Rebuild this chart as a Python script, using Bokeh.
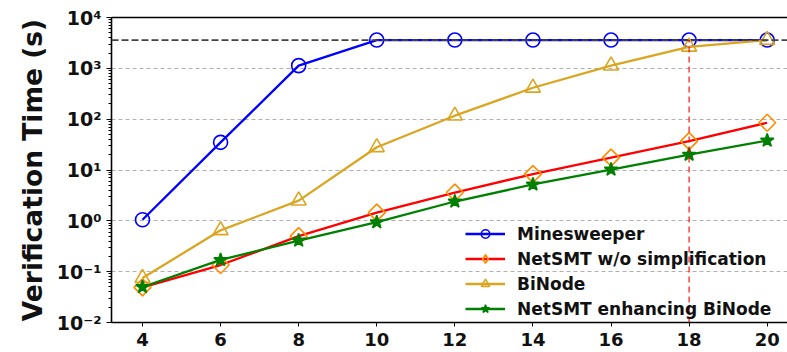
import math
from bokeh.plotting import figure
from bokeh.models import (FixedTicker, CustomJSTickFormatter, LinearAxis, Span,
                          Legend, LegendItem)
from bokeh.embed import file_html
from bokeh.resources import INLINE

# Network size (x) and verification time in seconds for each approach
sizes = [4, 6, 8, 10, 12, 14, 16, 18, 20]
minesweeper = [1.05, 35, 1130, 3600, 3600, 3600, 3600, 3600, 3600]
netsmt_wo_simpl = [0.049, 0.135, 0.5, 1.45, 3.6, 8.3, 17.5, 37, 85]
binode = [0.075, 0.65, 2.5, 28, 117, 415, 1130, 2650, 3600]
netsmt_binode = [0.05, 0.17, 0.41, 0.94, 2.4, 5.2, 10.2, 20, 38]

timeout_s = 3600
marked_size = 18

x_ticks = [4, 6, 8, 10, 12, 14, 16, 18, 20]
y_decades = [1e-2, 1e-1, 1e0, 1e1, 1e2, 1e3, 1e4]

FONT = "DejaVu Sans"

p = figure(width=787, height=352, x_range=(3.206, 20.52), y_range=(0.01, 10000),
           y_axis_type="log", output_backend="svg", toolbar_location=None,
           min_border_left=111, min_border_right=0, min_border_top=17,
           min_border_bottom=30)
p.outline_line_color = None
p.background_fill_color = "white"
p.border_fill_color = "white"

xa = p.below[0]
xa.ticker = FixedTicker(ticks=x_ticks)
xa.axis_line_width = 1.6
xa.major_tick_out = 4
xa.major_tick_in = 0
xa.minor_tick_line_color = None
xa.major_label_text_font = FONT
xa.major_label_text_font_style = "bold"
xa.major_label_text_font_size = "18px"
xa.major_label_text_color = "#111111"
xa.major_label_standoff = 6

minor = [k * d for d in y_decades[:-1] for k in range(2, 10)]
ya = p.left[0]
ya.ticker = FixedTicker(ticks=y_decades, minor_ticks=minor)
ya.formatter = CustomJSTickFormatter(code="""
const sup = {'-':'\u207b','0':'\u2070','1':'\u00b9','2':'\u00b2','3':'\u00b3',
             '4':'\u2074','5':'\u2075','6':'\u2076','7':'\u2077','8':'\u2078','9':'\u2079'};
const e = Math.round(Math.log10(tick));
return '10' + String(e).split('').map(c => sup[c]).join('');
""")
ya.axis_line_width = 1.6
ya.major_tick_out = 5
ya.major_tick_in = 0
ya.minor_tick_out = 3
ya.minor_tick_in = 0
ya.major_label_text_font = FONT
ya.major_label_text_font_style = "bold"
ya.major_label_text_font_size = "19px"
ya.major_label_text_color = "#111111"
ya.major_label_standoff = 5
ya.axis_label = "Verification Time (s)"
ya.axis_label_text_font = FONT
ya.axis_label_text_font_style = "bold"
ya.axis_label_text_font_size = "26.5px"
ya.axis_label_text_color = "#111111"
ya.axis_label_standoff = 6

# top frame line
top = LinearAxis(ticker=FixedTicker(ticks=[]), axis_line_width=1.6,
                 axis_line_color="black", major_tick_line_color=None,
                 minor_tick_line_color=None)
p.add_layout(top, "above")

p.xgrid.visible = False
p.ygrid.ticker = FixedTicker(ticks=y_decades)
p.ygrid.grid_line_color = "#b0b0b0"
p.ygrid.grid_line_dash = "4 3"
p.ygrid.grid_line_width = 1

# label, values, line colour, marker, marker colour, fill, size, angle
series = [
    ("Minesweeper", minesweeper, "blue", "circle", "blue", None, 14, 0),
    ("NetSMT w/o simplification", netsmt_wo_simpl, "red", "square", "darkorange", None, 12, math.pi / 4),
    ("BiNode", binode, "goldenrod", "triangle", "goldenrod", None, 15, 0),
    ("NetSMT enhancing BiNode", netsmt_binode, "green", "star", "green", "green", 14, 0),
]

items = []
for label, vals, lc, marker, mc, fc, ms, ang in series:
    ln = p.line(sizes, vals, line_color=lc, line_width=2.3)
    sc = p.scatter(sizes, vals, marker=marker, size=ms, angle=ang, line_color=mc,
                   line_width=1.6, fill_color=fc if fc else None)
    if ang:
        # the legend swatch ignores rotation, so show an upright diamond there
        sc = p.scatter([float("nan")], [float("nan")], marker="diamond", size=19,
                       line_color=mc, line_width=1.6, fill_color=None)
    items.append(LegendItem(label=label, renderers=[ln, sc]))

# timeout threshold
p.add_layout(Span(location=timeout_s, dimension="width", line_color="#444444",
                  line_width=1.8, line_dash="7 3"))
# size where the comparison is highlighted
p.segment(x0=[marked_size], y0=[0.01], x1=[marked_size], y1=[timeout_s],
          line_color="red", line_alpha=0.75, line_width=1.5, line_dash="6 4")

legend = Legend(items=items, location=(354, 3), background_fill_alpha=0,
                border_line_color=None, padding=0, margin=0, spacing=4,
                glyph_width=40, glyph_height=21, label_height=21,
                label_standoff=12, label_text_font=FONT,
                label_text_font_style="bold", label_text_font_size="17px",
                label_text_color="#111111")
p.add_layout(legend)

open("out.html", "w", encoding="utf-8").write(file_html(p, INLINE))
